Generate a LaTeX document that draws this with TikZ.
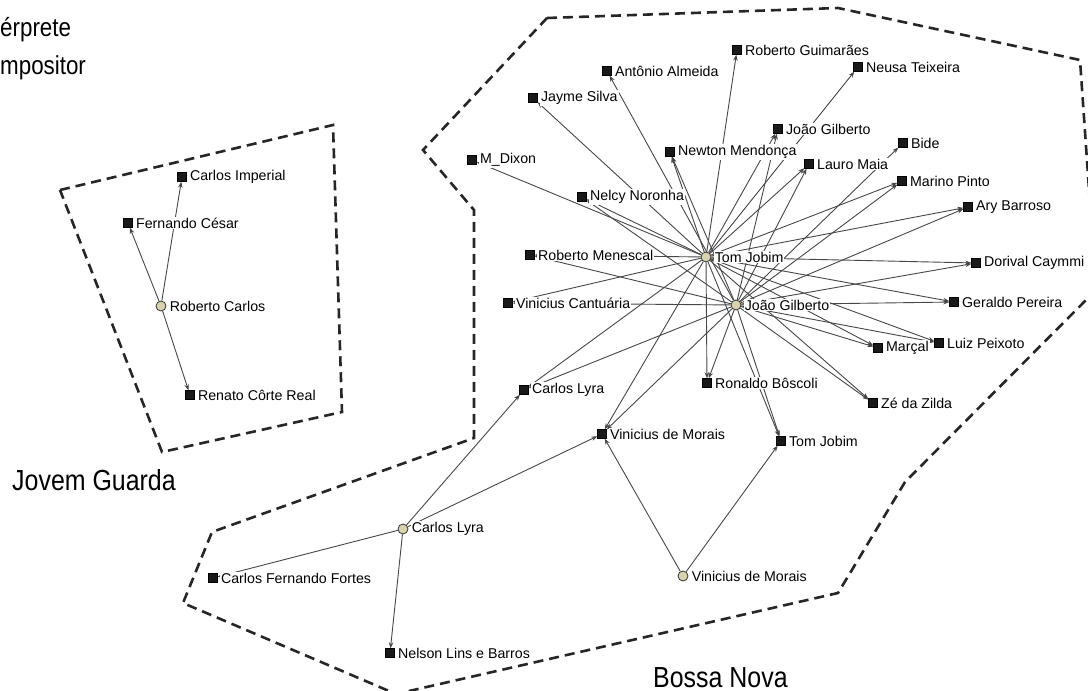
\documentclass[tikz,border=0pt]{standalone}
\usepackage{fontspec}
\setmainfont{Liberation Sans}
\newfontfamily\titlefont[FakeStretch=0.86]{Liberation Sans}
\usetikzlibrary{arrows.meta,backgrounds}
\definecolor{beige}{HTML}{D8D2AE}

\begin{document}
\begin{tikzpicture}[x=1pt,y=-1pt,
  comp node/.style={draw=black,fill=black!90,minimum size=9pt,inner sep=0pt,
    label={[lbl]right:#1}},
  int node/.style={draw=black!80,fill=beige,circle,minimum size=10pt,inner sep=0pt,
    line width=0.8pt,label={[lbl]right:#1}},
  lbl/.style={fill=white,inner sep=1pt,label distance=2.2pt,
    font=\fontsize{14.2}{16}\selectfont},
  link/.style={draw=black!72,line width=0.9pt,-{Stealth[length=6pt,width=4.5pt]}},
  group/.style={draw=black!85,line width=2.6pt,dash pattern=on 10pt off 6pt},
  title/.style={anchor=base west,inner sep=0pt,text depth=0pt,
    font=\titlefont\fontsize{29}{31}\selectfont}]
\useasboundingbox (0,0) rectangle (1088,691);

% legend (cut off at the left edge)
\node[title,font=\titlefont\fontsize{26}{28}\selectfont] (lint) at (0,36) {érprete};
\node[title,font=\titlefont\fontsize{26}{28}\selectfont] (lcomp) at (0,74) {mpositor};

% groups
\draw[group] (60,190) -- (333,125) -- (342,412) -- (162,452) -- cycle;
\draw[group] (547,18) -- (838,8) -- (1080,60) -- (1096,290) -- (905,482)
  -- (838,593) -- (396,694) -- (183,603) -- (212,532) -- (474,438)
  -- (474,210) -- (423,150) -- cycle;
\node[title] (jovem) at (12,490) {Jovem Guarda};
\node[title] (bossa) at (653,687) {Bossa Nova};

% Jovem Guarda
\node[int node=Roberto Carlos] (rc) at (161,306) {};
\node[comp node=Carlos Imperial] (ci) at (182,177) {};
\node[comp node=Fernando César] (fc) at (128,223) {};
\node[comp node=Renato Côrte Real] (rcr) at (190,395) {};

% Bossa Nova: interpretes
\node[int node=Tom Jobim] (tj) at (706,257) {};
\node[int node=João Gilberto] (jg) at (736,305) {};
\node[int node=Carlos Lyra] (cl) at (403,529) {};
\node[int node=Vinicius de Morais] (vm) at (683,576) {};

% Bossa Nova: compositores
\node[comp node=Roberto Guimarães] (rg) at (737,50) {};
\node[comp node=Antônio Almeida] (aa) at (607,71) {};
\node[comp node=Jayme Silva] (js) at (533,98) {};
\node[comp node=Neusa Teixeira] (nt) at (858,67) {};
\node[comp node=João Gilberto] (jgc) at (778,129) {};
\node[comp node=Newton Mendonça] (nm) at (670,152) {};
\node[comp node=Lauro Maia] (lm) at (809,164) {};
\node[comp node=Bide] (bi) at (903,143) {};
\node[comp node=Marino Pinto] (mp) at (902,181) {};
\node[comp node=Ary Barroso] (ab) at (968,207) {};
\node[comp node=Dorival Caymmi] (dc) at (976,263) {};
\node[comp node=Geraldo Pereira] (gp) at (954,302) {};
\node[comp node=Luiz Peixoto] (lp) at (939,343) {};
\node[comp node=Marçal] (mc) at (878,348) {};
\node[comp node=Zé da Zilda] (zz) at (873,403) {};
\node[comp node=M\_Dixon] (md) at (472,160) {};
\node[comp node=Nelcy Noronha] (nn) at (582,197) {};
\node[comp node=Roberto Menescal] (rm) at (530,255) {};
\node[comp node=Vinicius Cantuária] (vc) at (508,303) {};
\node[comp node=Ronaldo Bôscoli] (rb) at (707,383) {};
\node[comp node=Carlos Lyra] (clc) at (524,390) {};
\node[comp node=Vinicius de Morais] (vmc) at (602,434) {};
\node[comp node=Tom Jobim] (tjc) at (781,441) {};
\node[comp node=Carlos Fernando Fortes] (cff) at (213,578) {};
\node[comp node=Nelson Lins e Barros] (nlb) at (390,653) {};

\begin{scope}[on background layer]
\path[link]
(rc) edge (ci)
     edge (fc)
     edge (rcr)
(cl) edge (clc)
     edge (vmc)
     edge (cff)
     edge (nlb)
(vm) edge (vmc)
     edge (tjc)
(tj) edge (rg)
     edge (js)
     edge (nt)
     edge (md)
     edge (nn)
     edge (nm)
     edge (jgc)
     edge (lm)
     edge (mp)
     edge (ab)
     edge (dc)
     edge (gp)
     edge (lp)
     edge (mc)
     edge (zz)
     edge (rb)
     edge (tjc)
     edge (vmc)
     edge (clc)
     edge (rm)
     edge (vc)
(jg) edge (aa)
     edge (nm)
     edge (nn)
     edge (jgc)
     edge (lm)
     edge (bi)
     edge (mp)
     edge (ab)
     edge (dc)
     edge (gp)
     edge (lp)
     edge (mc)
     edge (zz)
     edge (rb)
     edge (tjc)
     edge (vmc)
     edge (clc)
     edge (rm)
     edge (vc);
\end{scope}
\end{tikzpicture}
\end{document}
